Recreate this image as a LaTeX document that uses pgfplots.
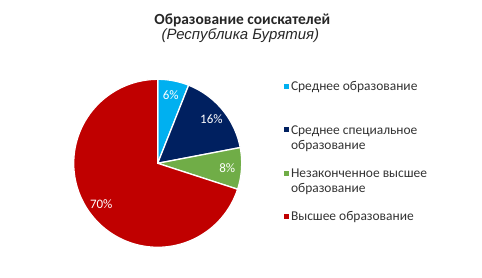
\documentclass[border=0pt]{standalone}
\usepackage{pgfplots}
\usepackage{pgfplotstable}
\pgfplotsset{compat=1.18}
\usepackage{fontspec}
\setmainfont{Carlito}
\newfontfamily\subfont{Liberation Sans}

\definecolor{cBlue}{HTML}{00B0F0}
\definecolor{cNavy}{HTML}{002060}
\definecolor{cGreen}{HTML}{70AD47}
\definecolor{cRed}{HTML}{C00000}

\tikzset{pct/.style={text=white, font=\fontsize{13}{15}\selectfont}}

% shares of applicants by education level, in percent
\pgfplotstableread{
share colour
6  cBlue
16 cNavy
8  cGreen
70 cRed
}\edutable

\newcommand\twoline[2]{\begin{tabular}[t]{@{}l@{}}#1\\#2\end{tabular}}

\begin{document}
\begin{tikzpicture}
\useasboundingbox (0,0) rectangle (482bp,278bp);

\node[anchor=base, inner sep=0pt, font=\bfseries\fontsize{15.5}{18}\selectfont, text=black!85] at (242.3bp,253.3bp) {Образование соискателей};
\node[anchor=base, inner sep=0pt, font=\subfont\itshape\fontsize{15}{17}\selectfont, text=black!85] at (240.3bp,238bp) {(Республика Бурятия)};

\begin{axis}[
  at={(157.7bp,114.7bp)}, anchor=origin,
  x=84bp, y=84bp,
  xmin=-1, xmax=1, ymin=-1, ymax=1,
  hide axis, clip=false,
  legend style={
    draw=none, fill=none,
    at={(axis description cs:1.2518,0.99)}, anchor=north west,
    inner sep=0pt, outer sep=0pt,
    column sep=2bp, row sep=0pt,
    cells={anchor=base west},
    nodes={inner sep=0pt, text height=10bp, text depth=33.3bp,
           font=\fontsize{13.5}{15.3}\selectfont, text=black!80},
  },
  legend image code/.code={\fill[#1, draw=none] (0bp,2bp) rectangle (5bp,7bp);},
]
\xdef\cum{0}
\pgfplotsinvokeforeach{0,...,3}{
  \pgfplotstablegetelem{#1}{share}\of\edutable \let\share\pgfplotsretval
  \pgfplotstablegetelem{#1}{colour}\of\edutable \let\col\pgfplotsretval
  \pgfmathsetmacro\a{\cum}
  \pgfmathsetmacro\b{\cum+\share}
  \pgfmathsetmacro\m{\cum+\share/2}
  % slices run clockwise from twelve o'clock
  \edef\temp{%
    \noexpand\addplot[fill=\col, draw=white, line width=1.3bp,
      domain=\a:\b, samples=90, variable=\noexpand\t]
      ({sin(3.6*\noexpand\t)},{cos(3.6*\noexpand\t)}) -- (axis cs:0,0) -- cycle;
    \noexpand\node[pct] at (axis cs:{0.83*sin(3.6*\m)},{0.83*cos(3.6*\m)}) {\share\noexpand\%};
  }%
  \temp
  \xdef\cum{\b}
}
\legend{Среднее образование,
  {\twoline{Среднее специальное}{образование}},
  {\twoline{Незаконченное высшее}{образование}},
  Высшее образование}
\end{axis}
\end{tikzpicture}
\end{document}
